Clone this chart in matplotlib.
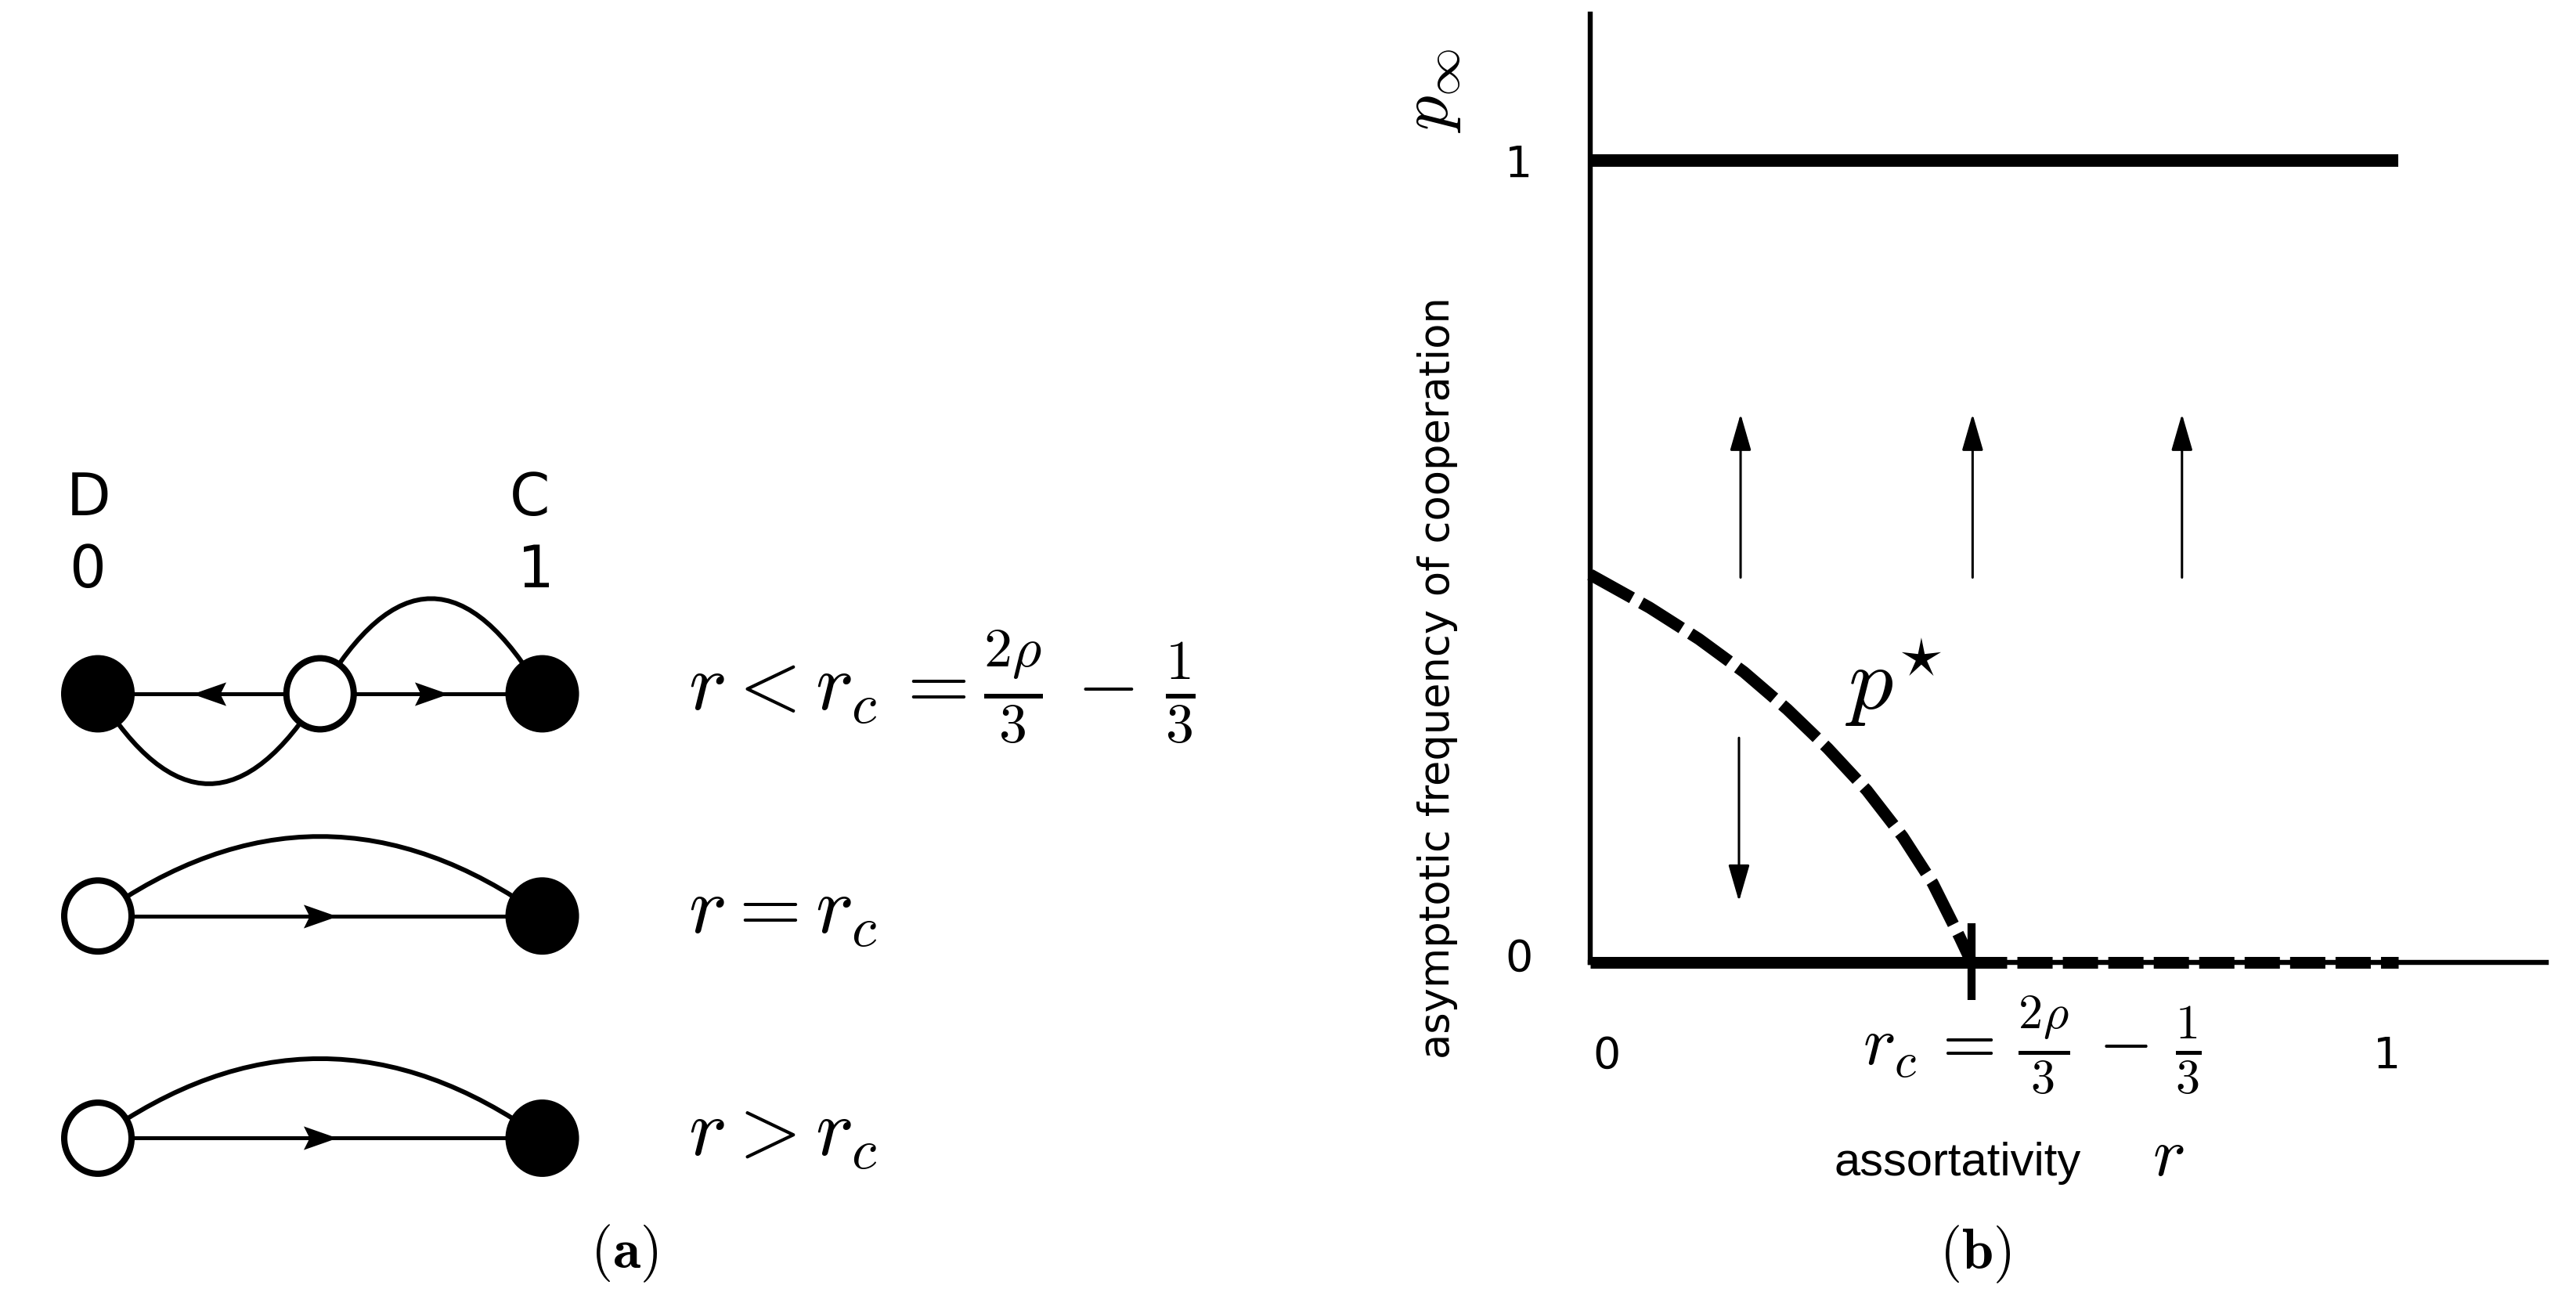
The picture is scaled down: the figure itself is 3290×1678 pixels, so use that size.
import matplotlib
matplotlib.use('Agg')
import matplotlib.pyplot as plt
from matplotlib.patches import Ellipse, FancyArrowPatch
from matplotlib.path import Path
from matplotlib.transforms import ScaledTranslation

plt.rcParams['mathtext.fontset'] = 'cm'
plt.rcParams['font.family'] = ['DejaVu Sans']

#### (a) transitions between strategies, one row per regime
# node position on the strategy line: 0 = D, 1 = C
row_y = [0.0, -0.5, -1.0]
row_nodes = [[0.0, 0.5, 1.0], [0.0, 1.0], [0.0, 1.0]]
row_colors = [['black', 'white', 'black'], ['white', 'black'], ['white', 'black']]
# straight edges (from, to), arrow half way
row_edges = [[(1, 0), (1, 2)], [(0, 1)], [(0, 1)]]
# curved edges (from, to)
row_arcs = [[(1, 2), (0, 1)], [(0, 1)], [(0, 1)]]
arc_rads = [[-0.857, 0.81], [-0.358], [-0.358]]
row_labels = [r'$r < r_c \,= \frac{2\rho}{3} \,-\, \frac{1}{3}$', r'$r = r_c$', r'$r > r_c$']

#### (b) asymptotic frequency of cooperation vs assortativity
r_c = 0.472
pstar_r = [0.000, 0.0733, 0.1345, 0.1901, 0.2439, 0.2938, 0.3421, 0.3865, 0.4236, 0.4570, 0.4718]
pstar_p = [0.4836, 0.4425, 0.4032, 0.3621, 0.3155, 0.2670, 0.2146, 0.1568, 0.0988, 0.0316, 0.0]
up_r = [0.186, 0.473, 0.732]
up_from, up_to = 0.48, 0.684
down_r = [0.184]
down_from, down_to = 0.28, 0.076

fig = plt.figure(figsize=(32.9, 16.78), dpi=100)

# ---------- panel (a)
ax_a = fig.add_axes([0, 0, 1575 / 3290, 1])
ax_a.set_xlim(-0.2203, 2.555)
ax_a.set_ylim(-1.3956, 1.5612)
ax_a.axis('off')

head = Path([(1, 0), (-1, 0.7), (-0.65, 0), (-1, -0.7), (1, 0)],
            [Path.MOVETO, Path.LINETO, Path.LINETO, Path.LINETO, Path.CLOSEPOLY])
head_left = Path([(-1, 0), (1, 0.7), (0.65, 0), (1, -0.7), (-1, 0)],
                 [Path.MOVETO, Path.LINETO, Path.LINETO, Path.LINETO, Path.CLOSEPOLY])

for y, xs, cols, edges, arcs, rads, lab in zip(row_y, row_nodes, row_colors,
                                               row_edges, row_arcs, arc_rads, row_labels):
    for i, j in edges:
        ax_a.plot([xs[i], xs[j]], [y, y], color='k', lw=3.6, zorder=1)
        mk = head if xs[j] > xs[i] else head_left
        ax_a.plot([(xs[i] + xs[j]) / 2], [y], marker=mk, markersize=31,
                  color='k', markeredgewidth=0, zorder=2)
    for (i, j), rad in zip(arcs, rads):
        ax_a.add_patch(FancyArrowPatch((xs[i], y), (xs[j], y), arrowstyle='-',
                                       connectionstyle=f'arc3,rad={rad}',
                                       lw=4.3, color='k', shrinkA=0, shrinkB=0, zorder=1))
    for x, c in zip(xs, cols):
        ax_a.add_patch(Ellipse((x, y), 0.1515, 0.160, facecolor=c,
                               edgecolor='k', lw=5.8, zorder=3))
    ax_a.text(1.3286, y - 0.038, lab, fontsize=74, ha='left', va='baseline')

ax_a.text(-0.021, 0.437, 'D', fontsize=53, ha='center', va='center')
ax_a.text(-0.023, 0.275, '0', fontsize=53, ha='center', va='center')
ax_a.text(0.971, 0.437, 'C', fontsize=53, ha='center', va='center')
ax_a.text(0.985, 0.275, '1', fontsize=53, ha='center', va='center')
ax_a.text(1.184, -1.293, r'$(\mathbf{a})$', fontsize=52, ha='center', va='baseline')

# ---------- panel (b)
ax_b = fig.add_axes([2031 / 3290, 449 / 1678, 1221 / 3290, 1211 / 1678])
ax_b.set_xlim(0, 1.1826)
ax_b.set_ylim(0, 1.1826)
for s in ['top', 'right']:
    ax_b.spines[s].set_visible(False)
for s in ['left', 'bottom']:
    ax_b.spines[s].set_linewidth(4.6)

ax_b.plot([0, 1], [1, 1], color='k', lw=11.5, solid_capstyle='butt', clip_on=False)
ax_b.plot([0, r_c], [0, 0], color='k', lw=10.8, solid_capstyle='butt', clip_on=False)
ax_b.plot([r_c, 1], [0, 0], color='k', lw=10.8, linestyle=(0, (3.0, 0.87)), clip_on=False)
ax_b.plot(pstar_r, pstar_p, color='k', lw=11, linestyle=(0, (4.0, 0.86)), clip_on=False)
ax_b.plot([r_c, r_c], [-0.0468, 0.0484], color='k', lw=7.4, solid_capstyle='butt', clip_on=False)

astyle = dict(arrowstyle='-|>,head_length=1.45,head_width=0.42', mutation_scale=20,
              lw=2.2, color='k', shrinkA=0, shrinkB=0)
for x in up_r:
    ax_b.annotate('', xy=(x, up_to), xytext=(x, up_from), arrowprops=astyle)
for x in down_r:
    ax_b.annotate('', xy=(x, down_to), xytext=(x, down_from), arrowprops=astyle)

ax_b.set_xticks([0, 1])
ax_b.set_xticklabels(['0', '1'], fontsize=40)
ax_b.set_yticks([0, 1])
ax_b.set_yticklabels(['0', '1'], fontsize=40)
ax_b.tick_params(axis='x', length=0, pad=67)
ax_b.tick_params(axis='y', length=0, pad=53)
# nudge the x labels a bit inwards, as in the original drawing
for lbl, dx in zip(ax_b.get_xticklabels(), [0.21, -0.15]):
    lbl.set_transform(lbl.get_transform() + ScaledTranslation(dx, 0, fig.dpi_scale_trans))
ax_b.get_yticklabels()[0].set_transform(
    ax_b.get_yticklabels()[0].get_transform() + ScaledTranslation(0, 0.1, fig.dpi_scale_trans))

ax_b.text(0.316, 0.3155, r'$p^{\star}$', fontsize=82, ha='left', va='baseline')
ax_b.text(0.547, -0.128, r'$r_c \,= \,\frac{2\rho}{3} \,-\, \frac{1}{3}$', fontsize=64,
          ha='center', va='baseline')
ax_b.text(0.302, -0.266, 'assortativity', fontsize=43, family='Liberation Sans',
          ha='left', va='baseline')
ax_b.text(0.715, -0.266, r'$r$', fontsize=64, ha='center', va='baseline')
ax_b.text(0.4765, -0.382, r'$(\mathbf{b})$', fontsize=52, ha='center', va='baseline')
ax_b.text(-0.189, 0.355, 'asymptotic frequency of cooperation', fontsize=38,
          rotation=90, ha='center', va='center')
ax_b.text(-0.2, 1.087, r'$p_\infty$', fontsize=64, rotation=90, ha='center', va='center')

fig.savefig('out.png', dpi=100)
